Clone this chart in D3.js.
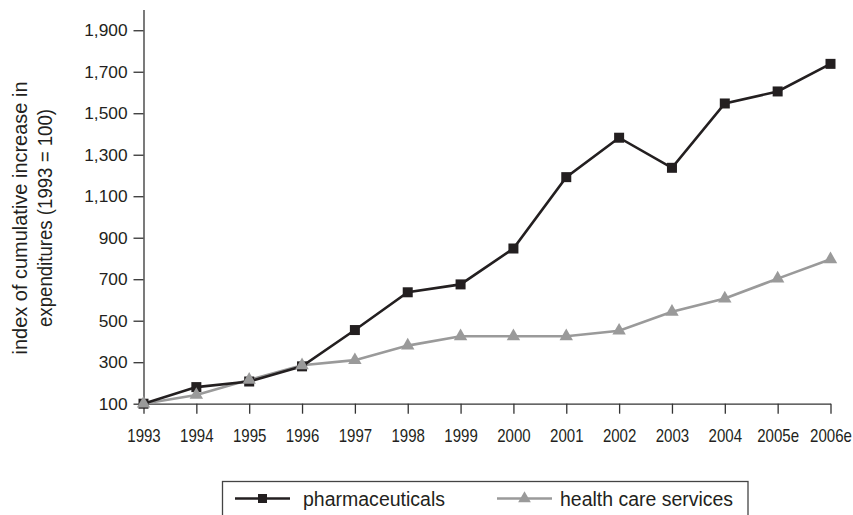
<!DOCTYPE html>
<html>
<head>
<meta charset="utf-8">
<script src="https://cdn.jsdelivr.net/npm/d3@7"></script>
<style>
  html, body { margin: 0; padding: 0; background: #fff; }
  svg { display: block; }
</style>
</head>
<body>
<svg id="chart" width="853" height="515"></svg>
<script>
const years = ["1993","1994","1995","1996","1997","1998","1999","2000","2001","2002","2003","2004","2005e","2006e"];
const pharmaceuticals = [100,180,207,280,455,637,675,848,1192,1382,1237,1547,1605,1738];
const healthCareServices = [100,142,215,285,310,380,425,425,425,452,543,607,703,796];
const yTicks = [100,300,500,700,900,1100,1300,1500,1700,1900];
const seriesNames = ["pharmaceuticals","health care services"];
const yTitleLines = ["index of cumulative increase in","expenditures (1993 = 100)"];

const FONT = "'Liberation Sans', Arial, sans-serif";
const TEXT = "#231f20";
const DARK = "#231f20";
const GREY = "#9a9a9a";

const svg = d3.select("#chart");

const x = d3.scalePoint().domain(years).range([143.5, 830.5]);
const y = d3.scaleLinear().domain([100, 2000]).range([403.7, 9.5]);

// Y axis
const yAxis = svg.append("g")
  .attr("transform", "translate(143.5,0)")
  .call(d3.axisLeft(y).tickValues(yTicks).tickSize(10).tickSizeOuter(0).tickPadding(6).tickFormat(d3.format(",")));
yAxis.select(".domain").attr("stroke", "#333").attr("stroke-width", 1.3);
yAxis.selectAll(".tick line").attr("stroke", "#333").attr("stroke-width", 1.3);
yAxis.selectAll(".tick text").attr("fill", TEXT).attr("font-family", FONT).attr("font-size", 17.3);

// X axis
const xAxis = svg.append("g")
  .attr("transform", `translate(0,${y(100)})`)
  .call(d3.axisBottom(x).tickSize(10).tickSizeOuter(0).tickPadding(16));
xAxis.select(".domain").attr("stroke", "#333").attr("stroke-width", 1.3);
xAxis.selectAll(".tick line").attr("stroke", "#333").attr("stroke-width", 1.3);
// condensed look: scale horizontally around the tick centre
xAxis.selectAll(".tick text").attr("fill", TEXT).attr("font-family", FONT).attr("font-size", 17.5)
  .attr("transform", "scale(0.86,1)");

// Y title
const yt = svg.append("text")
  .attr("transform", "translate(0,218) rotate(-90)")
  .attr("text-anchor", "middle")
  .attr("fill", TEXT).attr("font-family", FONT).attr("font-size", 20);
const titleLens = [273, 218];
yTitleLines.forEach((t, i) => {
  yt.append("tspan").attr("x", 0).attr("y", 27 + i * 25)
    .attr("textLength", titleLens[i]).attr("lengthAdjust", "spacingAndGlyphs").text(t);
});

// Lines
const line = d3.line().x((d, i) => x(years[i])).y(d => y(d));
svg.append("path").datum(healthCareServices).attr("d", line)
  .attr("fill", "none").attr("stroke", GREY).attr("stroke-width", 2.6);
svg.append("path").datum(pharmaceuticals).attr("d", line)
  .attr("fill", "none").attr("stroke", DARK).attr("stroke-width", 2.6);

const sq = 10;
const tri = d3.symbol().type(d3.symbolTriangle).size(78);

svg.append("g").selectAll("rect").data(pharmaceuticals).join("rect")
  .attr("x", (d, i) => x(years[i]) - sq / 2)
  .attr("y", d => y(d) - sq / 2)
  .attr("width", sq).attr("height", sq)
  .attr("fill", DARK);
svg.append("g").selectAll("path").data(healthCareServices).join("path")
  .attr("d", tri)
  .attr("transform", (d, i) => `translate(${x(years[i])},${y(d)})`)
  .attr("fill", GREY);

// Legend
const lg = svg.append("g");
lg.append("rect").attr("x", 222.5).attr("y", 481.5).attr("width", 525.5).attr("height", 45)
  .attr("fill", "#fff").attr("stroke", "#444").attr("stroke-width", 1.3);
const legendItems = [
  { name: seriesNames[0], color: DARK, x0: 235, x1: 290, tx: 303, len: 142, sym: "square" },
  { name: seriesNames[1], color: GREY, x0: 497, x1: 552, tx: 560, len: 173, sym: "triangle" }
];
const ly = 498.5;
legendItems.forEach(it => {
  lg.append("line").attr("x1", it.x0).attr("x2", it.x1).attr("y1", ly).attr("y2", ly)
    .attr("stroke", it.color).attr("stroke-width", 2.6);
  const cx = (it.x0 + it.x1) / 2;
  if (it.sym === "square") {
    lg.append("rect").attr("x", cx - 4.5).attr("y", ly - 4.5).attr("width", 9).attr("height", 9).attr("fill", it.color);
  } else {
    lg.append("path").attr("d", d3.symbol().type(d3.symbolTriangle).size(70)).attr("transform", `translate(${cx},${ly})`).attr("fill", it.color);
  }
  lg.append("text").attr("x", it.tx).attr("y", 506).attr("fill", TEXT)
    .attr("font-family", FONT).attr("font-size", 19.5)
    .attr("textLength", it.len).attr("lengthAdjust", "spacingAndGlyphs").text(it.name);
});
</script>
</body>
</html>
